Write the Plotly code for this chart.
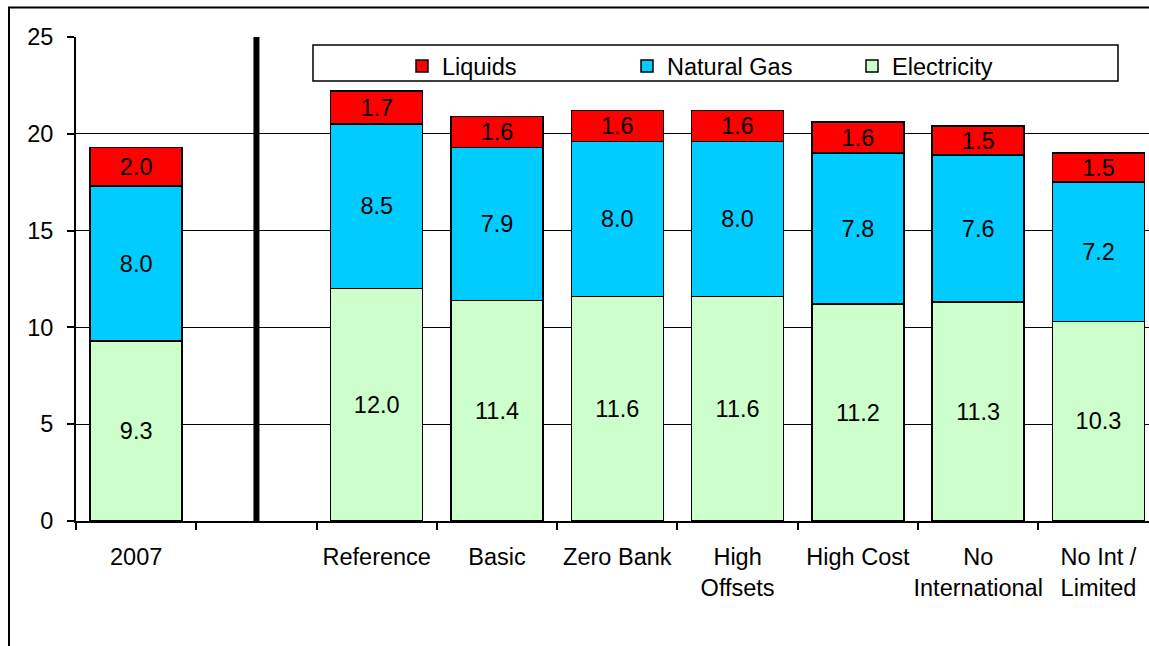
import plotly.graph_objects as go

categories = ["2007", " ", "Reference", "Basic", "Zero Bank", "High<br>Offsets",
              "High Cost", "No<br>International", "No Int /<br>Limited"]
electricity = [9.3, None, 12.0, 11.4, 11.6, 11.6, 11.2, 11.3, 10.3]
natural_gas = [8.0, None, 8.5, 7.9, 8.0, 8.0, 7.8, 7.6, 7.2]
liquids = [2.0, None, 1.7, 1.6, 1.6, 1.6, 1.6, 1.5, 1.5]
y_ticks = [0, 5, 10, 15, 20, 25]

FONT = "Liberation Sans, Arial, sans-serif"
FS = 23.5

fig = go.Figure()
series = [("Electricity", electricity, "#CCFFCC"),
          ("Natural Gas", natural_gas, "#00CCFF"),
          ("Liquids", liquids, "#FF0000")]
for name, vals, color in series:
    fig.add_trace(go.Bar(
        name=name, x=categories, y=vals,
        marker=dict(color=color, line=dict(color="black", width=1.5)),
        width=0.765,
        texttemplate="%{y:.1f}", textposition="inside", insidetextanchor="middle",
        textangle=0,
        textfont=dict(family=FONT, size=FS, color="black"),
        hoverinfo="skip",
    ))

fig.update_layout(
    barmode="stack",
    width=1149, height=646,
    margin=dict(l=76, r=0, t=37, b=125, autoexpand=False),
    paper_bgcolor="white", plot_bgcolor="white",
    font=dict(family=FONT, size=FS, color="black"),
    uniformtext=dict(minsize=FS, mode="show"),
    legend=dict(
        orientation="h", traceorder="reversed",
        x=(402 - 76) / 1073, xanchor="left", y=0.985, yanchor="top",
        bgcolor="rgba(0,0,0,0)", borderwidth=0,
        font=dict(family=FONT, size=FS, color="black"),
        entrywidth=180, itemwidth=30,
    ),
    xaxis=dict(
        type="category", range=[-0.5, 8.42], automargin=False, tickangle=0,
        showline=True, linecolor="black", linewidth=2, mirror=False,
        ticks="outside", tickson="boundaries", ticklen=7, tickwidth=1.5, tickcolor="black",
        showgrid=False, tickfont=dict(family=FONT, size=FS, color="black"),
        ticklabelstandoff=14,
    ),
    yaxis=dict(
        range=[0, 25], tickvals=y_ticks, automargin=False,
        showline=True, linecolor="black", linewidth=2,
        ticks="outside", ticklen=7, tickwidth=1.5, tickcolor="black",
        showgrid=True, gridcolor="black", gridwidth=1.2,
        zeroline=False, tickfont=dict(family=FONT, size=FS, color="black"),
        ticklabelstandoff=9,
    ),
    showlegend=True,
)

# separator between historical year and scenarios
fig.add_shape(type="line", xref="x", yref="y", x0=1, x1=1, y0=0, y1=25,
              line=dict(color="black", width=6), layer="above")
# legend frame
fig.add_shape(type="rect", xref="paper", yref="paper",
              x0=(313 - 76) / 1073, x1=(1118 - 76) / 1073,
              y0=(521 - 81) / 484, y1=(521 - 45) / 484,
              line=dict(color="black", width=1.5), fillcolor="white", layer="below")
# outer chart frame
fig.add_shape(type="rect", xref="paper", yref="paper",
              x0=(9 - 76) / 1073, x1=1.2, y0=-0.6, y1=(521 - 7.5) / 484,
              line=dict(color="black", width=2), fillcolor="rgba(0,0,0,0)")
# clipped unit label at the top
fig.add_annotation(text="(quadrillion Btu)", xref="paper", yref="paper",
                   x=(163 - 76) / 1073, xanchor="left",
                   y=(521 - 2) / 484, yanchor="bottom", showarrow=False,
                   font=dict(family="Liberation Serif, Times New Roman, serif", size=30, color="black"))

fig.write_html("out.html", config={"displayModeBar": False},
               post_script="document.body.style.margin='0';")
